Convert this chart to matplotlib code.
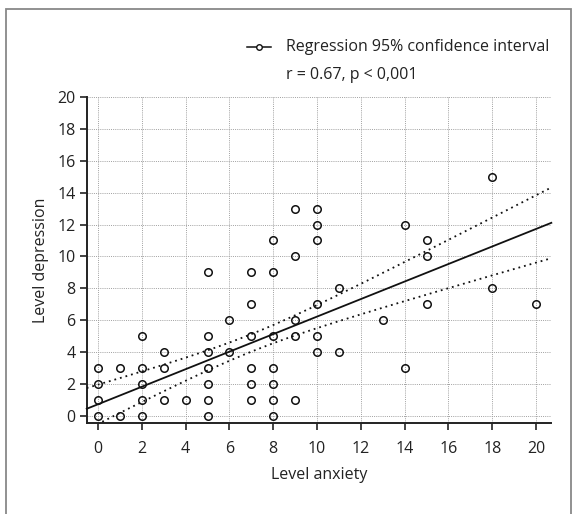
import numpy as np
import matplotlib
matplotlib.use("Agg")
import matplotlib.pyplot as plt
from matplotlib.lines import Line2D
from matplotlib.patches import Rectangle

plt.rcParams['font.family'] = ['Open Sans', 'DejaVu Sans']

# Data: anxiety level (x) and depression level (y) for each subject
anxiety = [0, 0, 0, 0,
           1, 1,
           2, 2, 2, 2, 2,
           3, 3, 3,
           4,
           5, 5, 5, 5, 5, 5, 5,
           6, 6,
           7, 7, 7, 7, 7, 7,
           8, 8, 8, 8, 8, 8, 8,
           9, 9, 9, 9, 9,
           10, 10, 10, 10, 10, 10,
           11, 11,
           13,
           14, 14,
           15, 15, 15,
           18, 18,
           20]
depression = [0, 1, 2, 3,
              0, 3,
              0, 1, 2, 3, 5,
              1, 3, 4,
              1,
              0, 1, 2, 3, 4, 5, 9,
              4, 6,
              1, 2, 3, 5, 7, 9,
              0, 1, 2, 3, 5, 9, 11,
              1, 5, 6, 10, 13,
              4, 5, 7, 11, 12, 13,
              4, 8,
              6,
              3, 12,
              7, 10, 11,
              8, 15,
              7]

# Regression line and 95% CI
reg_intercept = 0.72
reg_slope = 0.55
ci_center_x = 7.0
ci_half_at_center = 0.55
ci_half_slope = 0.157

ticks = np.arange(0, 21, 2)

fig = plt.figure(figsize=(5.77, 5.14), dpi=100)
ax = fig.add_axes([0.1503, 0.1770, 0.8052, 0.6342])

ax.set_xlim(-0.52, 20.7)
ax.set_ylim(-0.46, 20.0)
ax.set_xticks(ticks)
ax.set_yticks(ticks)
ax.grid(True, color='#a0a0a0', linestyle=(0, (1, 1.2)), linewidth=0.7)
ax.set_axisbelow(True)

for side in ['top', 'right']:
    ax.spines[side].set_visible(False)
for side in ['left', 'bottom']:
    ax.spines[side].set_color('#222222')
    ax.spines[side].set_linewidth(1.4)

ax.tick_params(axis='both', length=5, width=1.2, color='#222222',
               labelsize=11.5, labelcolor='#222222')
ax.tick_params(axis='x', pad=8)
ax.tick_params(axis='y', pad=3)

# regression line with confidence band
xs = np.linspace(-0.52, 20.7, 200)
ys = reg_intercept + reg_slope * xs
half = np.sqrt(ci_half_at_center ** 2 + (ci_half_slope * (xs - ci_center_x)) ** 2)
ax.plot(xs, ys, color='#111111', linewidth=1.3, clip_on=False, zorder=3)
ax.plot(xs, ys + half, color='#111111', linewidth=1.3, linestyle=(0, (1, 2.2)), zorder=3)
ax.plot(xs, ys - half, color='#111111', linewidth=1.3, linestyle=(0, (1, 2.2)), zorder=3)

# points
ax.plot(anxiety, depression, linestyle='none', marker='o', markersize=5.4,
        markerfacecolor='none', markeredgecolor='#111111', markeredgewidth=1.1,
        clip_on=False, zorder=4)

ax.set_xlabel('Level anxiety', fontsize=11.5, color='#222222', labelpad=7)
ax.set_ylabel('Level depression', fontsize=11.5, color='#222222', labelpad=6)

# legend-like annotation at the top
fig.add_artist(Line2D([247 / 577, 271 / 577], [1 - 47 / 514, 1 - 47 / 514],
                      color='#111111', linewidth=1.1))
fig.add_artist(Line2D([259 / 577], [1 - 47 / 514], marker='o', markersize=4,
                      markerfacecolor='white', markeredgecolor='#111111',
                      markeredgewidth=1.0))
fig.text(286 / 577, 1 - 47 / 514, 'Regression 95% confidence interval',
         fontsize=11.5, color='#222222', va='center', ha='left')
fig.text(286 / 577, 1 - 75 / 514, 'r = 0.67, p < 0,001',
         fontsize=11.5, color='#222222', va='center', ha='left')

# outer frame
fig.add_artist(Rectangle((5.5 / 577, -0.1), (570.5 - 5.5) / 577, 1.1 - 9 / 514,
                         transform=fig.transFigure, fill=False,
                         edgecolor='#888888', linewidth=1.3))

fig.savefig('out.png', dpi=100)
